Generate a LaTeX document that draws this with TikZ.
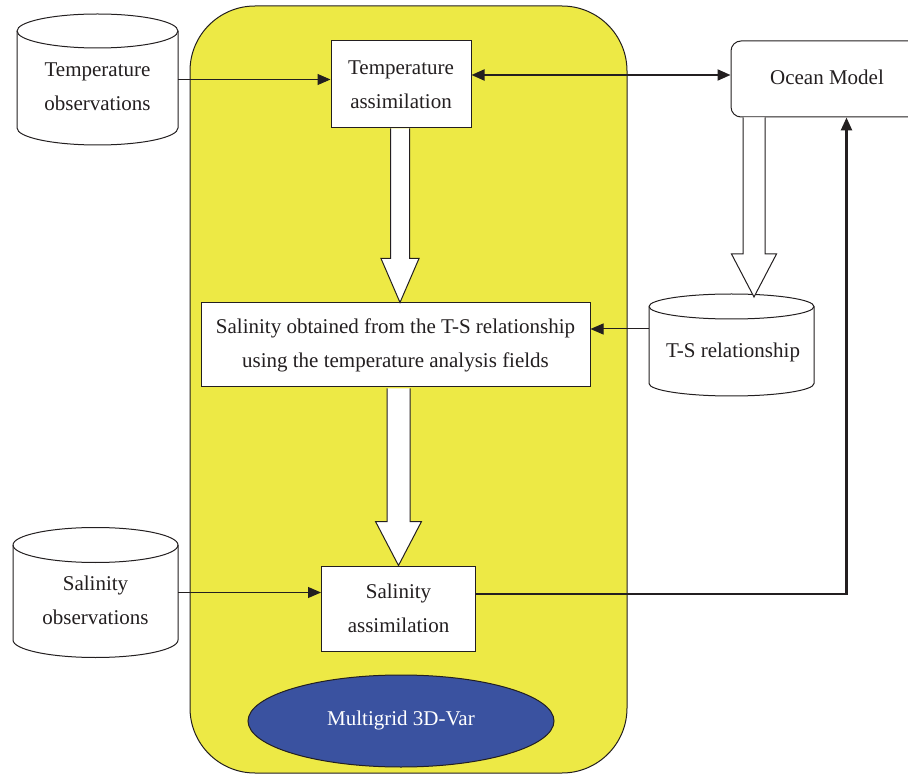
\documentclass[tikz,border=0pt]{standalone}
\usepackage{fontspec}
\setmainfont{Liberation Serif}
\usetikzlibrary{arrows.meta,calc,shapes.geometric}
\definecolor{ylw}{HTML}{EDE945}
\definecolor{blu}{HTML}{3A52A0}
\definecolor{ink}{HTML}{231F20}
\newcommand\drawcyl[3]{%
  \draw[draw=ink, line width=1pt, fill=white] (#1.north west) -- (#1.south west)
    arc[start angle=180, end angle=360, x radius=#2, y radius=#3] -- (#1.north east)
    arc[start angle=0, end angle=180, x radius=#2, y radius=#3] -- cycle;
  \draw[draw=ink, line width=1pt] (#1.north west)
    arc[start angle=180, end angle=360, x radius=#2, y radius=#3];}
\newcommand\blockarrow[5]{%
  \draw[hollow] ($(#1)+(-#3,0)$) -- ($(#2)+(-#3,-#5)$) -- ($(#2)+(-#4,-#5)$) -- (#2)
    -- ($(#2)+(#4,-#5)$) -- ($(#2)+(#3,-#5)$) -- ($(#1)+(#3,0)$);}
\begin{document}
\begin{tikzpicture}[x=1pt, y=-1pt,
  every node/.style={font=\fontsize{21}{34}\selectfont, text=ink},
  box/.style={draw=ink, line width=1pt, fill=white, inner sep=0pt, align=center},
  body/.style={inner sep=0pt, outer sep=0pt},
  lbl/.style={align=center, inner sep=0pt},
  tip/.style={-{Triangle[length=13pt, width=11pt]}},
  hollow/.style={draw=ink, line width=1pt, fill=white, line join=miter}]
\useasboundingbox (0,0) rectangle (908,775);

% yellow frame
\node[draw=ink, line width=1pt, fill=ylw, rounded corners=65pt, minimum width=437pt,
      minimum height=767pt, inner sep=0pt] (frame) at (408.5,389.5) {};

% boxes
\node[box, minimum width=140pt, minimum height=87pt] (ta) at (401,84.5)
  {Temperature\\assimilation};
\node[box, minimum width=389pt, minimum height=84pt] (so) at (395.5,345)
  {Salinity obtained from the T-S relationship\\using the temperature analysis fields};
\node[box, minimum width=154pt, minimum height=85pt] (sa) at (398.5,608.5)
  {Salinity\\assimilation};
\node[box, rounded corners=10pt, minimum width=192pt, minimum height=76pt] (om) at (827,79) {};
\node[lbl] (omT) at (827,77) {Ocean Model};
\node[draw=ink, line width=1pt, fill=blu, ellipse, minimum width=306pt, minimum height=92pt,
      inner sep=0pt] (mg) at (401,721) {};
\node[lbl, text=white] (mgT) at (401,720) {Multigrid 3D-Var};

% cylinders
\node[body, minimum width=161pt, minimum height=97pt] (tobs) at (97.5,79.5) {};
\drawcyl{tobs}{80.5pt}{17pt}
\node[lbl] (tobsT) at (97.5,87) {Temperature\\observations};

\node[body, minimum width=165pt, minimum height=95pt] (sobs) at (95.5,592.5) {};
\drawcyl{sobs}{82.5pt}{17.5pt}
\node[lbl] (sobsT) at (95.5,600) {Salinity\\observations};

\node[body, minimum width=165pt, minimum height=77pt] (ts) at (731.5,345) {};
\drawcyl{ts}{82.5pt}{12.5pt}
\node[lbl] (tsT) at (733,352) {T-S relationship};

% connectors
\draw[ink, line width=1pt, tip] (tobs.east) -- (tobs.east -| ta.west);
\coordinate (dl) at ($(om.west)+(0,-4)$);
\draw[ink, line width=2pt, {Triangle[length=13pt, width=11pt]}-{Triangle[length=13pt, width=11pt]}]
  (dl -| ta.east) -- (dl);
\draw[ink, line width=1pt, tip] (sobs.east) -- (sobs.east -| sa.west);
\coordinate (tsl) at ($(ts.west)+(0,-16)$);
\draw[ink, line width=1pt, tip] (tsl) -- (tsl -| so.east);
\coordinate (k) at ($(om.south west)+(116,0)$);
\draw[ink, line width=2.5pt, tip] ($(sa.east)+(0,-14.5)$) -| (k);

% block arrows
\coordinate (a1s) at ($(ta.south)+(-1,0)$);
\coordinate (a1e) at (a1s |- so.north);
\blockarrow{a1s}{a1e}{9.5}{19}{44}
\coordinate (a2s) at ($(sa.north |- so.south)+(0,1)$);
\blockarrow{a2s}{sa.north}{11.5}{23}{44}
\coordinate (a3s) at ($(om.south west)+(23.5,0)$);
\coordinate (a3e) at ($(a3s |- ts.north)+(0,-9.5)$);
\blockarrow{a3s}{a3e}{11}{22.5}{43}
\end{tikzpicture}
\end{document}
